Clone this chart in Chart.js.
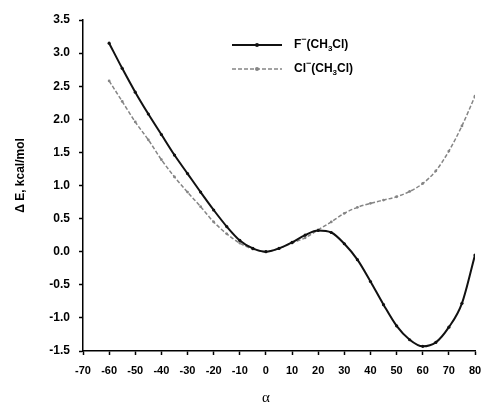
<!DOCTYPE html>
<html>
<head>
<meta charset="utf-8">
<script src="https://cdn.jsdelivr.net/npm/chart.js@4"></script>
<style>
  html, body { margin: 0; padding: 0; background: #fff; }
  canvas { display: block; }
</style>
</head>
<body>
<canvas id="chart" width="481" height="406"></canvas>
<script>
const alpha = [-60, -55, -50, -45, -40, -35, -30, -25, -20, -15, -10, -5, 0, 5, 10, 15, 20, 25, 30, 35, 40, 45, 50, 55, 60, 65, 70, 75, 80];
const fValues = [3.15, 2.77, 2.41, 2.08, 1.77, 1.46, 1.18, 0.9, 0.63, 0.38, 0.17, 0.05, 0.0, 0.05, 0.14, 0.25, 0.32, 0.29, 0.12, -0.12, -0.45, -0.8, -1.12, -1.33, -1.43, -1.37, -1.14, -0.78, -0.05];
const clValues = [2.58, 2.27, 1.96, 1.69, 1.39, 1.13, 0.9, 0.68, 0.45, 0.27, 0.13, 0.04, 0.0, 0.05, 0.13, 0.21, 0.33, 0.45, 0.58, 0.67, 0.73, 0.78, 0.83, 0.91, 1.03, 1.22, 1.52, 1.9, 2.35];
const yTicks = [-1.5, -1.0, -0.5, 0.0, 0.5, 1.0, 1.5, 2.0, 2.5, 3.0, 3.5];
const xTicks = [-70, -60, -50, -40, -30, -20, -10, 0, 10, 20, 30, 40, 50, 60, 70, 80];

const seriesStyle = [
  { label: [["F"], ["−", "sup"], ["(CH"], ["3", "sub"], ["Cl)"]], color: "#111", width: 2, dash: [] },
  { label: [["Cl"], ["−", "sup"], ["(CH"], ["3", "sub"], ["Cl)"]], color: "#858585", width: 1.5, dash: [4, 2] },
];

const toPoints = (vals) => alpha.map((a, i) => ({ x: a, y: vals[i] }));

// legend drawn inside the plot area, top middle
const insideLegend = {
  id: "insideLegend",
  afterDraw(chart) {
    const { ctx, chartArea } = chart;
    const x0 = chartArea.left + 149;
    const y0 = chartArea.top + 25;
    ctx.save();
    seriesStyle.forEach((s, i) => {
      const y = y0 + i * 24;
      ctx.strokeStyle = s.color;
      ctx.lineWidth = s.width;
      ctx.setLineDash(s.dash);
      ctx.beginPath();
      ctx.moveTo(x0, y);
      ctx.lineTo(x0 + 50, y);
      ctx.stroke();
      ctx.setLineDash([]);
      ctx.fillStyle = s.color;
      ctx.beginPath();
      ctx.arc(x0 + 25, y, 2, 0, Math.PI * 2);
      ctx.fill();
      let tx = x0 + 62;
      ctx.fillStyle = "#000";
      ctx.textBaseline = "middle";
      s.label.forEach(([t, kind]) => {
        if (kind === "sup") {
          ctx.font = "bold 9px 'Liberation Sans', Arial, sans-serif";
          ctx.fillText(t, tx, y - 5);
        } else if (kind === "sub") {
          ctx.font = "bold 8px 'Liberation Sans', Arial, sans-serif";
          ctx.fillText(t, tx, y + 4);
        } else {
          ctx.font = "bold 12px 'Liberation Sans', Arial, sans-serif";
          ctx.fillText(t, tx, y);
        }
        tx += ctx.measureText(t).width;
      });
    });
    ctx.restore();
  },
};

const tickFont = { family: "'Liberation Sans', Arial, sans-serif", size: 11, weight: "bold" };

new Chart(document.getElementById("chart"), {
  type: "line",
  data: {
    datasets: [
      {
        label: "F-(CH3Cl)",
        data: toPoints(fValues),
        borderColor: seriesStyle[0].color,
        backgroundColor: seriesStyle[0].color,
        borderWidth: seriesStyle[0].width,
        pointRadius: 1.6,
        pointBorderWidth: 0,
        cubicInterpolationMode: "monotone",
      },
      {
        label: "Cl-(CH3Cl)",
        data: toPoints(clValues),
        borderColor: seriesStyle[1].color,
        backgroundColor: seriesStyle[1].color,
        borderWidth: seriesStyle[1].width,
        borderDash: seriesStyle[1].dash,
        pointRadius: 1.4,
        pointBorderWidth: 0,
        cubicInterpolationMode: "monotone",
      },
    ],
  },
  options: {
    responsive: false,
    animation: false,
    layout: { padding: { top: 20, right: 6, left: 0, bottom: 0 } },
    plugins: {
      legend: { display: false },
      tooltip: { enabled: false },
    },
    scales: {
      x: {
        type: "linear",
        min: xTicks[0],
        max: xTicks[xTicks.length - 1],
        afterBuildTicks: (scale) => { scale.ticks = xTicks.map((v) => ({ value: v })); },
        afterFit: (scale) => {
          scale.height = 55;
          scale.paddingLeft = 0;
          scale.paddingRight = 0;
        },
        grid: { drawOnChartArea: false, tickLength: 4, color: "#000", tickWidth: 1.5 },
        border: { color: "#000", width: 1.5 },
        ticks: { color: "#000", font: tickFont, padding: 9, maxRotation: 0, autoSkip: false },
        title: {
          display: true,
          text: "α" + "\u00a0".repeat(7),
          color: "#000",
          font: { family: "'Liberation Serif', 'Times New Roman', serif", size: 15, lineHeight: 1 },
          padding: { top: 0, bottom: 0 },
        },
      },
      y: {
        min: yTicks[0],
        max: yTicks[yTicks.length - 1],
        afterBuildTicks: (scale) => { scale.ticks = yTicks.map((v) => ({ value: v })); },
        afterFit: (scale) => { scale.width = 83; },
        grid: { drawOnChartArea: false, tickLength: 4, color: "#000", tickWidth: 1.5 },
        border: { color: "#000", width: 1.5 },
        ticks: { color: "#000", font: { ...tickFont, size: 12 }, padding: 9, callback: (v) => Number(v).toFixed(1) },
        title: {
          display: true,
          text: "\u00a0".repeat(6) + "Δ E, kcal/mol",
          color: "#000",
          font: { family: "'Liberation Sans', Arial, sans-serif", size: 12, weight: "bold", lineHeight: 1.2 },
          padding: { top: 13, bottom: 0 },
        },
      },
    },
  },
  plugins: [insideLegend],
});
</script>
</body>
</html>
